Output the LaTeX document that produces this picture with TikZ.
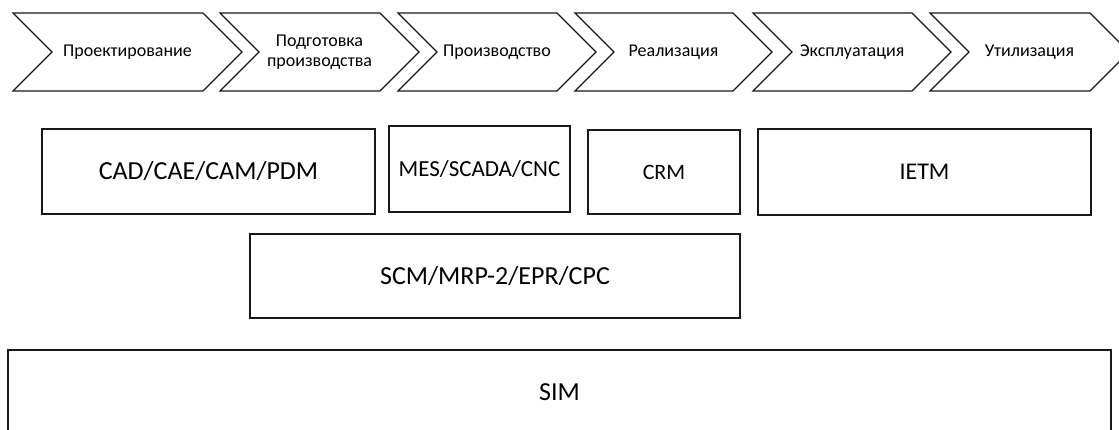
\documentclass[tikz,border=0pt]{standalone}
\usepackage{fontspec}
\setmainfont{Carlito}
\begin{document}
\begin{tikzpicture}[x=1pt,y=-1pt,
  chev/.style={draw=black!90, line width=1.1pt, line join=miter},
  chevtext/.style={font=\fontsize{18}{20}\selectfont, align=center, inner sep=0pt},
  box/.style={draw=black!90, line width=1.3pt, rectangle, inner sep=0pt, font=\fontsize{26}{30}\selectfont}]
\useasboundingbox (0,0) rectangle (1119,430);
\foreach \L/\R/\n/\t in {13/203/c1/{Проектирование}, 220/380/c2/{Подготовка\\производства}, 398/557/c3/{Производство}, 575/733/c4/{Реализация}, 753/912/c5/{Эксплуатация}, 930/1090/c6/{Утилизация}} {
  \draw[chev] (\L,13) -- (\R,13) -- (\R+39,52) -- (\R,91) -- (\L,91) -- (\L+39,52) -- cycle;
  \node[chevtext] (\n) at ({(\L+39+\R)/2},52) {\t};
}
\node[box, minimum width=333pt, minimum height=85pt] (cad) at (208.5,171.5) {CAD/CAE/CAM/PDM};
\node[box, minimum width=181pt, minimum height=86pt, font=\fontsize{23}{27}\selectfont] (mes) at (479.5,169) {MES/SCADA/CNC};
\node[box, minimum width=152pt, minimum height=84pt, font=\fontsize{22}{26}\selectfont] (crm) at (664,172) {CRM};
\node[box, minimum width=333pt, minimum height=86pt, font=\fontsize{24}{28}\selectfont] (ietm) at (924.5,172) {IETM};
\node[box, minimum width=490pt, minimum height=84pt] (scm) at (495,276) {SCM/MRP-2/EPR/CPC};
\node[box, minimum width=1103pt, minimum height=84pt] (sim) at (559.5,392) {SIM};
\end{tikzpicture}
\end{document}
